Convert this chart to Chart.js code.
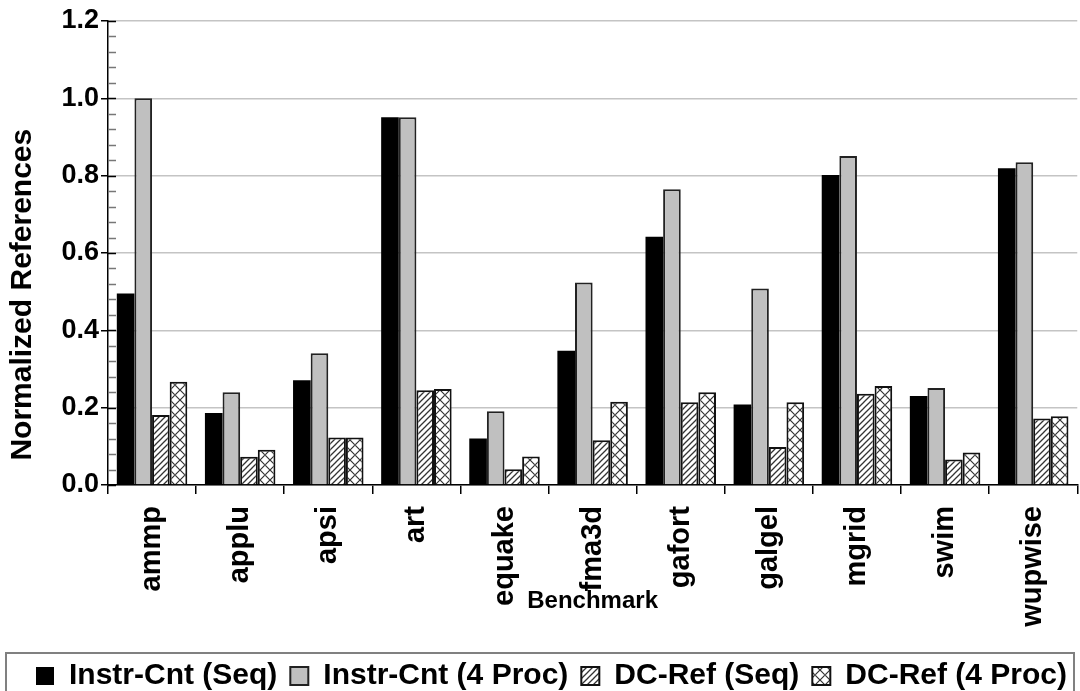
<!DOCTYPE html>
<html lang="en">
<head>
    <meta charset="UTF-8">
    <title>Normalized References</title>
    <script src="https://cdn.jsdelivr.net/npm/chart.js"></script>
    <style>
        body { margin: 0; background: #fff; }
        #wrap { width: 1080px; height: 691px; position: relative; }
    </style>
</head>
<body>
    <div id="wrap"><canvas id="chart"></canvas></div>

    <script>
        // data
        const benchmarks = ["ammp", "applu", "apsi", "art", "equake", "fma3d", "gafort", "galgel", "mgrid", "swim", "wupwise"];
        const instrSeq   = [0.495, 0.186, 0.271, 0.951, 0.120, 0.347, 0.642, 0.208, 0.802, 0.230, 0.819];
        const instrProc  = [1.000, 0.240, 0.341, 0.951, 0.191, 0.524, 0.765, 0.508, 0.851, 0.251, 0.835];
        const dcSeq      = [0.181, 0.073, 0.123, 0.245, 0.041, 0.116, 0.214, 0.098, 0.236, 0.066, 0.172];
        const dcProc     = [0.267, 0.091, 0.123, 0.248, 0.074, 0.215, 0.240, 0.214, 0.256, 0.084, 0.178];
        const yTicks     = [0, 0.2, 0.4, 0.6, 0.8, 1.0, 1.2];

        const FONT = "'Liberation Sans', Arial, sans-serif";

        // hatch fills
        function hatchPattern() {
            const c = document.createElement('canvas');
            c.width = 6; c.height = 6;
            const g = c.getContext('2d');
            g.fillStyle = '#fff';
            g.fillRect(0, 0, 6, 6);
            g.strokeStyle = '#333';
            g.lineWidth = 1.3;
            g.beginPath();
            g.moveTo(-1, 7); g.lineTo(7, -1);
            g.moveTo(-4, 4); g.lineTo(4, -4);
            g.moveTo(2, 10); g.lineTo(10, 2);
            g.stroke();
            return g.createPattern(c, 'repeat');
        }

        function crossPattern() {
            const c = document.createElement('canvas');
            c.width = 10; c.height = 10;
            const g = c.getContext('2d');
            g.fillStyle = '#fff';
            g.fillRect(0, 0, 10, 10);
            g.strokeStyle = '#333';
            g.lineWidth = 1.2;
            g.beginPath();
            g.moveTo(0, 0); g.lineTo(10, 10);
            g.moveTo(10, 0); g.lineTo(0, 10);
            g.stroke();
            g.fillStyle = '#555';
            g.fillRect(4, 4, 2, 2);
            return g.createPattern(c, 'repeat');
        }

        // minor ticks on the y axis + box round the legend
        const extras = {
            id: 'extras',
            afterDraw(chart) {
                const ctx = chart.ctx;
                const y = chart.scales.y;
                const x0 = chart.chartArea.left;
                ctx.save();
                for (let i = 0; i <= 30; i++) {
                    const py = Math.round(y.getPixelForValue(i * 0.04)) + 0.5;
                    ctx.strokeStyle = i % 5 === 0 ? '#000' : '#777';
                    ctx.lineWidth = 1.5;
                    ctx.beginPath();
                    ctx.moveTo(x0, py);
                    ctx.lineTo(x0 + 8, py);
                    ctx.stroke();
                }
                ctx.strokeStyle = '#808080';
                ctx.lineWidth = 2;
                ctx.strokeRect(6, 653, 1068, 60);
                ctx.restore();
            }
        };

        const ctx = document.getElementById('chart').getContext('2d');
        new Chart(ctx, {
            type: 'bar',
            data: {
                labels: benchmarks,
                datasets: [
                    { label: 'Instr-Cnt (Seq)', data: instrSeq, backgroundColor: '#000', borderColor: '#000', borderWidth: 0 },
                    { label: 'Instr-Cnt (4 Proc)', data: instrProc, backgroundColor: '#c0c0c0', borderColor: '#222', borderWidth: 2 },
                    { label: 'DC-Ref (Seq)', data: dcSeq, backgroundColor: hatchPattern(), borderColor: '#111', borderWidth: 2 },
                    { label: 'DC-Ref (4 Proc)', data: dcProc, backgroundColor: crossPattern(), borderColor: '#111', borderWidth: 2 }
                ]
            },
            options: {
                responsive: true,
                maintainAspectRatio: false,
                animation: false,
                layout: { padding: { top: 21, right: 0, bottom: -10, left: 0 } },
                datasets: { bar: { categoryPercentage: 0.8, barPercentage: 1.0 } },
                plugins: {
                    tooltip: { enabled: false },
                    legend: {
                        position: 'bottom',
                        align: 'end',
                        labels: {
                            color: '#000',
                            font: { family: FONT, size: 30, weight: 'bold' },
                            boxWidth: 18,
                            boxHeight: 18,
                            padding: 13
                        }
                    }
                },
                scales: {
                    x: {
                        afterFit(scale) { scale.height = 163; },
                        grid: { offset: true, drawOnChartArea: false, tickLength: 9, tickColor: '#000', lineWidth: 1.5 },
                        border: { color: '#000', width: 1.5 },
                        ticks: {
                            color: '#000',
                            font: { family: FONT, size: 29, weight: 'bold' },
                            minRotation: 90,
                            maxRotation: 90,
                            padding: 12,
                            autoSkip: false
                        },
                        title: {
                            display: true,
                            text: 'Benchmark',
                            color: '#000',
                            font: { family: FONT, size: 24, weight: 'bold' },
                            padding: { top: 0, bottom: 32 }
                        }
                    },
                    y: {
                        min: 0,
                        max: 1.2,
                        afterFit(scale) { scale.width = 108; },
                        afterBuildTicks(scale) { scale.ticks = yTicks.map(v => ({ value: v })); },
                        grid: { color: '#c4c4c4', lineWidth: 1.5, tickLength: 7, tickColor: '#000' },
                        border: { color: '#000', width: 1.5 },
                        ticks: {
                            color: '#000',
                            font: { family: FONT, size: 27, weight: 'bold' },
                            padding: 2,
                            callback: v => Number(v).toFixed(1)
                        },
                        title: {
                            display: true,
                            // trailing spaces push the visible text down, as in the original
                            text: 'Normalized References          ',
                            color: '#000',
                            font: { family: FONT, size: 30, weight: 'bold' },
                            padding: { top: 5, bottom: 0 }
                        }
                    }
                }
            },
            plugins: [extras]
        });
    </script>
</body>
</html>
